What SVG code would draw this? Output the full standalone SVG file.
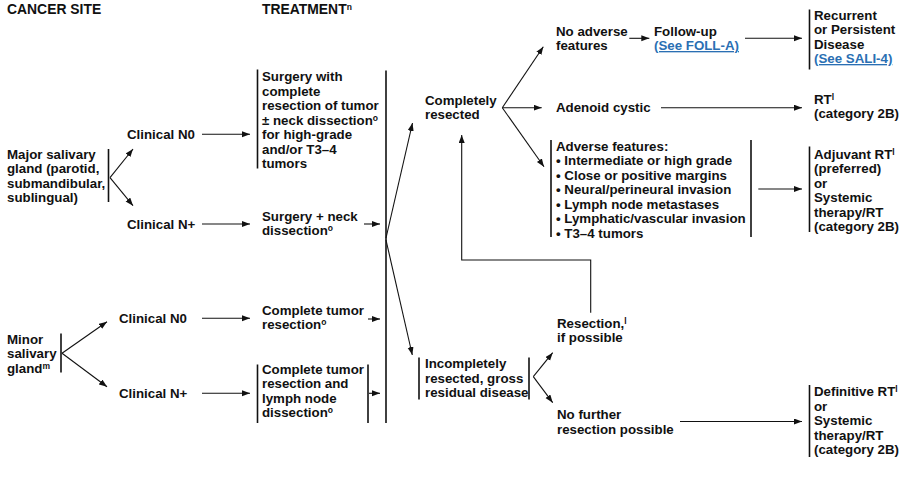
<svg xmlns="http://www.w3.org/2000/svg" width="917" height="493" viewBox="0 0 917 493">
<style>
text{font-family:"Liberation Sans",Arial,sans-serif;font-weight:bold;font-size:13.3px;fill:#111}
.hdr{font-size:13.9px}
.sup{font-size:8.5px}
.link{fill:#2a6fb3;text-decoration:underline}
.br{stroke:#111;stroke-width:1.6;fill:none}
.c{stroke:#111;stroke-width:1.1;fill:none}
.a{marker-end:url(#ah)}
</style>
<defs>
<marker id="ah" markerUnits="userSpaceOnUse" markerWidth="9" markerHeight="7" refX="8" refY="3" orient="auto">
<path d="M0,0 L8,3 L0,6 z" fill="#111"/>
</marker>
</defs>
<rect width="917" height="493" fill="#fff"/>

<g id="headers">
<text class="hdr" x="7" y="13.5">CANCER SITE</text>
<text class="hdr" x="262" y="13.5">TREATMENT<tspan class="sup" dy="-4">n</tspan></text>
</g>

<g id="major">
<text x="7" y="158.5">Major salivary</text>
<text x="7" y="173">gland (parotid,</text>
<text x="7" y="187.5">submandibular,</text>
<text x="7" y="202">sublingual)</text>
<line class="br" x1="108.5" y1="149" x2="108.5" y2="202"/>
</g>

<g id="major-n0"><text x="127" y="139">Clinical N0</text></g>
<g id="major-nplus"><text x="127" y="228.5">Clinical N+</text></g>

<g id="tx-surgery-complete">
<line class="br" x1="257.5" y1="69.5" x2="257.5" y2="168.5"/>
<text x="262" y="81">Surgery with</text>
<text x="262" y="95.5">complete</text>
<text x="262" y="110">resection of tumor</text>
<text x="262" y="124.5">± neck dissection<tspan class="sup" dy="-4">o</tspan></text>
<text x="262" y="139">for high-grade</text>
<text x="262" y="153.5">and/or T3–4</text>
<text x="262" y="168">tumors</text>
</g>

<g id="tx-surgery-neck">
<text x="262" y="220.5">Surgery + neck</text>
<text x="262" y="234.5">dissection<tspan class="sup" dy="-4">o</tspan></text>
</g>

<g id="minor">
<text x="7" y="343.5">Minor</text>
<text x="7" y="358">salivary</text>
<text x="7" y="372.5">gland<tspan class="sup" dy="-4">m</tspan></text>
<line class="br" x1="61" y1="333.5" x2="61" y2="372.5"/>
</g>

<g id="minor-n0"><text x="119" y="323">Clinical N0</text></g>
<g id="minor-nplus"><text x="119" y="398">Clinical N+</text></g>

<g id="tx-complete-resection">
<text x="262" y="315">Complete tumor</text>
<text x="262" y="329">resection<tspan class="sup" dy="-4">o</tspan></text>
</g>

<g id="tx-complete-lymph">
<line class="br" x1="257.5" y1="364.5" x2="257.5" y2="423"/>
<line class="br" x1="368" y1="364.5" x2="368" y2="423"/>
<text x="262" y="373.5">Complete tumor</text>
<text x="262" y="388">resection and</text>
<text x="262" y="402.5">lymph node</text>
<text x="262" y="417">dissection<tspan class="sup" dy="-4">o</tspan></text>
</g>

<g id="collector">
<line class="br" x1="386" y1="70.5" x2="386" y2="423"/>
</g>

<g id="completely">
<text x="425" y="104.5">Completely</text>
<text x="425" y="119">resected</text>
</g>

<g id="incompletely">
<line class="br" x1="419" y1="357.5" x2="419" y2="399.5"/>
<line class="br" x1="529" y1="357.5" x2="529" y2="399.5"/>
<text x="425" y="368">Incompletely</text>
<text x="425" y="382.5">resected, gross</text>
<text x="425" y="397">residual disease</text>
</g>

<g id="no-adverse">
<text x="556" y="35.5">No adverse</text>
<text x="556" y="50">features</text>
</g>

<g id="followup">
<text x="654" y="35.5">Follow-up</text>
<text class="link" x="654" y="50">(See FOLL-A)</text>
</g>

<g id="recurrent">
<line class="br" x1="809.5" y1="9.5" x2="809.5" y2="69.5"/>
<text x="814" y="19.5">Recurrent</text>
<text x="814" y="34">or Persistent</text>
<text x="814" y="48.5">Disease</text>
<text class="link" x="814" y="63">(See SALI-4)</text>
</g>

<g id="adenoid"><text x="556" y="112">Adenoid cystic</text></g>

<g id="rt">
<text x="814" y="103.5">RT<tspan class="sup" dy="-4">l</tspan></text>
<text x="814" y="118">(category 2B)</text>
</g>

<g id="adverse">
<line class="br" x1="551" y1="140" x2="551" y2="237"/>
<line class="br" x1="751" y1="140" x2="751" y2="237"/>
<text x="556" y="150.5">Adverse features:</text>
<text x="556" y="165">• Intermediate or high grade</text>
<text x="556" y="179.5">• Close or positive margins</text>
<text x="556" y="194">• Neural/perineural invasion</text>
<text x="556" y="208.5">• Lymph node metastases</text>
<text x="556" y="223">• Lymphatic/vascular invasion</text>
<text x="556" y="237.5">• T3–4 tumors</text>
</g>

<g id="adjuvant">
<line class="br" x1="809.5" y1="146.5" x2="809.5" y2="232"/>
<text x="814" y="158.5">Adjuvant RT<tspan class="sup" dy="-4">l</tspan></text>
<text x="814" y="173">(preferred)</text>
<text x="814" y="187.5">or</text>
<text x="814" y="202">Systemic</text>
<text x="814" y="216.5">therapy/RT</text>
<text x="814" y="231">(category 2B)</text>
</g>

<g id="resection-possible">
<text x="557" y="328">Resection,<tspan class="sup" dy="-4">l</tspan></text>
<text x="557" y="342">if possible</text>
</g>

<g id="no-further">
<text x="557" y="419">No further</text>
<text x="557" y="433.5">resection possible</text>
</g>

<g id="definitive">
<line class="br" x1="809.5" y1="385" x2="809.5" y2="457"/>
<text x="814" y="396">Definitive RT<tspan class="sup" dy="-4">l</tspan></text>
<text x="814" y="410.5">or</text>
<text x="814" y="425">Systemic</text>
<text x="814" y="439.5">therapy/RT</text>
<text x="814" y="454">(category 2B)</text>
</g>

<g id="connectors">
<line class="c a" x1="110" y1="177.7" x2="133" y2="149"/>
<line class="c a" x1="110" y1="177.7" x2="133" y2="205.7"/>
<line class="c a" x1="202" y1="134.3" x2="250" y2="134.3"/>
<line class="c a" x1="202" y1="224" x2="250" y2="224"/>
<line class="c a" x1="364" y1="224" x2="380" y2="224"/>
<line class="c a" x1="62" y1="353.3" x2="107" y2="321.7"/>
<line class="c a" x1="62" y1="353.3" x2="107" y2="386.7"/>
<line class="c a" x1="202" y1="318.3" x2="250" y2="318.3"/>
<line class="c a" x1="202" y1="393.3" x2="250" y2="393.3"/>
<line class="c a" x1="368" y1="319" x2="380" y2="319"/>
<line class="c a" x1="369" y1="393.3" x2="380" y2="393.3"/>
<line class="c a" x1="386" y1="238" x2="412.5" y2="123"/>
<line class="c a" x1="386" y1="240" x2="412.3" y2="355"/>
<line class="c a" x1="502.3" y1="107.7" x2="543.3" y2="46.7"/>
<line class="c a" x1="502.3" y1="107.7" x2="541.7" y2="107.7"/>
<line class="c a" x1="502.3" y1="107.7" x2="544" y2="166.7"/>
<line class="c a" x1="629.3" y1="38.3" x2="649.3" y2="38.3"/>
<line class="c a" x1="745" y1="38.3" x2="802" y2="38.3"/>
<line class="c a" x1="661" y1="107.7" x2="802" y2="107.7"/>
<line class="c a" x1="758.3" y1="189" x2="802" y2="189"/>
<path class="c a" d="M590.7,312.7 V260 H461.7 V135"/>
<line class="c a" x1="533.3" y1="376.7" x2="552.7" y2="352.7"/>
<line class="c a" x1="533.3" y1="376.7" x2="552.7" y2="402.7"/>
<line class="c a" x1="680" y1="421.5" x2="802" y2="421.5"/>
</g>
</svg>
